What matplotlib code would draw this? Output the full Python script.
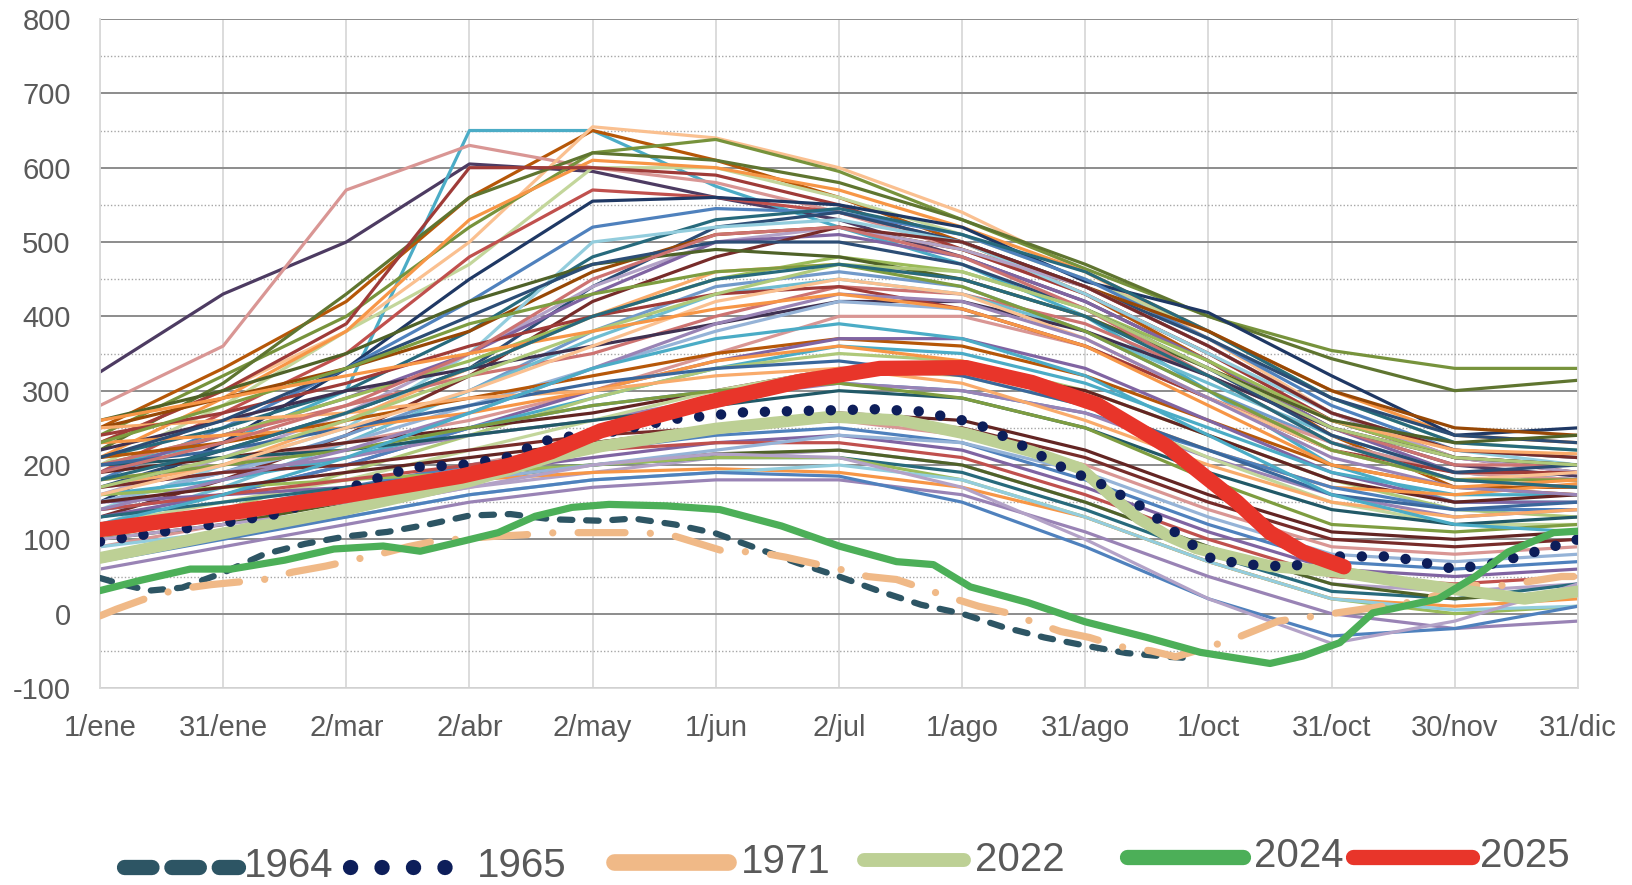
import matplotlib
matplotlib.use("Agg")
import matplotlib.pyplot as plt
from matplotlib.lines import Line2D
from matplotlib.ticker import MultipleLocator

plt.rcParams["axes.unicode_minus"] = False

# ---- data ---------------------------------------------------------------
tick_days = [0, 30, 60, 90, 120, 150, 180, 210, 240, 270, 300, 330, 360]
tick_labels = ["1/ene", "31/ene", "2/mar", "2/abr", "2/may", "1/jun", "2/jul",
               "1/ago", "31/ago", "1/oct", "31/oct", "30/nov", "31/dic"]

# background years, values read at every tick day
bg_days = tick_days
bg_values = [
    [325, 430, 500, 605, 595, 560, 530, 480, 420, 340, 250, 200, 185],
    [200, 230, 300, 650, 650, 575, 520, 470, 400, 300, 200, 150, 150],
    [250, 330, 420, 560, 650, 610, 560, 500, 430, 340, 240, 170, 160],
    [280, 360, 570, 630, 600, 580, 540, 490, 430, 350, 260, 210, 200],
    [230, 300, 380, 500, 655, 640, 600, 540, 460, 370, 270, 220, 210],
    [240, 320, 400, 520, 620, 638, 595, 530, 464, 400, 354, 330, 330],
    [220, 310, 430, 560, 620, 610, 580, 530, 470, 400, 343, 300, 314],
    [200, 280, 380, 470, 600, 600, 560, 510, 450, 380, 290, 230, 220],
    [210, 290, 380, 530, 610, 600, 570, 520, 460, 380, 300, 240, 230],
    [190, 270, 350, 480, 570, 560, 540, 500, 440, 360, 270, 210, 200],
    [230, 300, 390, 600, 600, 590, 550, 490, 430, 350, 260, 210, 190],
    [150, 230, 330, 450, 555, 560, 550, 520, 447, 405, 320, 240, 250],
    [180, 250, 330, 420, 520, 545, 540, 510, 450, 370, 280, 220, 210],
    [210, 250, 300, 380, 480, 530, 545, 510, 460, 380, 290, 230, 220],
    [170, 220, 270, 330, 440, 520, 540, 500, 440, 370, 290, 240, 230],
    [250, 290, 330, 380, 460, 510, 520, 490, 440, 380, 300, 250, 240],
    [140, 200, 250, 350, 500, 520, 530, 500, 430, 350, 270, 220, 200],
    [160, 210, 270, 350, 440, 500, 520, 490, 440, 360, 270, 210, 190],
    [190, 240, 290, 350, 430, 500, 510, 480, 420, 340, 250, 190, 180],
    [130, 180, 240, 320, 420, 480, 520, 500, 440, 360, 270, 220, 210],
    [200, 240, 290, 340, 400, 450, 480, 460, 410, 340, 260, 210, 200],
    [170, 200, 260, 330, 400, 460, 470, 450, 400, 330, 260, 220, 215],
    [260, 300, 350, 420, 470, 490, 480, 450, 400, 330, 260, 230, 240],
    [150, 190, 240, 300, 380, 440, 460, 440, 380, 300, 230, 190, 180],
    [200, 240, 280, 320, 350, 400, 440, 430, 390, 320, 250, 200, 200],
    [120, 170, 230, 300, 370, 430, 450, 430, 380, 310, 240, 190, 180],
    [220, 260, 300, 330, 360, 390, 420, 420, 380, 320, 250, 210, 200],
    [150, 190, 230, 280, 330, 380, 420, 410, 360, 290, 220, 180, 170],
    [180, 200, 230, 260, 300, 350, 400, 400, 360, 290, 230, 190, 180],
    [210, 230, 260, 290, 320, 350, 370, 360, 320, 260, 200, 170, 170],
    [130, 160, 200, 250, 300, 340, 370, 370, 330, 260, 190, 150, 150],
    [160, 180, 210, 250, 290, 330, 360, 350, 310, 250, 190, 160, 160],
    [100, 140, 190, 240, 290, 330, 350, 340, 300, 240, 180, 140, 130],
    [190, 210, 230, 250, 270, 300, 330, 330, 300, 240, 180, 150, 160],
    [230, 240, 250, 270, 300, 340, 360, 340, 280, 220, 170, 160, 175],
    [140, 160, 200, 250, 280, 300, 310, 300, 270, 220, 170, 140, 140],
    [170, 190, 210, 240, 260, 290, 310, 300, 270, 210, 160, 130, 140],
    [120, 150, 180, 220, 260, 300, 330, 320, 280, 210, 150, 120, 120],
    [200, 210, 220, 240, 260, 280, 300, 290, 250, 190, 140, 120, 130],
    [250, 260, 270, 290, 300, 320, 330, 310, 260, 200, 150, 130, 140],
    [90, 120, 160, 200, 230, 250, 260, 240, 200, 140, 90, 80, 90],
    [110, 140, 170, 200, 220, 240, 250, 230, 180, 120, 70, 60, 70],
    [150, 160, 170, 190, 210, 230, 240, 220, 170, 110, 60, 50, 60],
    [80, 110, 140, 170, 190, 210, 220, 200, 150, 90, 40, 30, 40],
    [130, 150, 170, 190, 200, 210, 210, 190, 140, 80, 30, 20, 40],
    [100, 120, 150, 180, 200, 215, 220, 200, 150, 90, 40, 20, 30],
    [160, 170, 180, 190, 200, 210, 210, 180, 130, 70, 20, 0, 10],
    [60, 90, 120, 150, 170, 180, 180, 160, 110, 50, 0, -20, -10],
    [140, 160, 180, 200, 220, 230, 230, 210, 160, 100, 50, 40, 50],
    [120, 140, 160, 180, 190, 195, 190, 170, 130, 70, 20, 10, 20],
    [90, 110, 130, 160, 180, 190, 200, 180, 130, 70, 20, 5, 10],
    [170, 190, 200, 220, 240, 250, 260, 250, 210, 150, 100, 90, 100],
    [180, 200, 220, 250, 280, 300, 310, 290, 250, 180, 120, 110, 120],
    [200, 220, 250, 280, 310, 330, 340, 320, 280, 220, 160, 140, 150],
    [240, 270, 310, 360, 400, 430, 440, 410, 360, 290, 220, 190, 190],
    [160, 200, 250, 300, 360, 420, 450, 430, 370, 290, 220, 180, 190],
    [210, 260, 330, 400, 470, 500, 500, 470, 410, 330, 240, 190, 200],
    [190, 230, 280, 350, 450, 510, 520, 480, 410, 320, 230, 180, 170],
    [170, 210, 260, 320, 380, 430, 470, 460, 410, 330, 250, 210, 200],
    [230, 280, 330, 390, 430, 460, 470, 440, 380, 300, 220, 180, 180],
    [140, 180, 220, 270, 330, 390, 430, 420, 370, 290, 210, 170, 160],
    [260, 290, 320, 350, 380, 410, 430, 410, 360, 280, 200, 170, 180],
    [180, 220, 270, 330, 400, 450, 470, 450, 400, 320, 230, 180, 170],
    [120, 160, 210, 270, 330, 370, 390, 370, 320, 240, 160, 120, 110],
    [150, 170, 190, 210, 230, 250, 270, 260, 220, 160, 110, 100, 110],
    [110, 130, 150, 180, 200, 220, 240, 230, 190, 130, 80, 70, 80],
    [70, 100, 130, 160, 180, 190, 185, 150, 90, 20, -30, -20, 10],
    [100, 120, 140, 170, 200, 215, 210, 170, 100, 20, -40, -10, 40],
]
bg_colors = [
    "#4D3B62", "#4BACC6", "#B65708", "#D99694", "#FAC090", "#77933C",
    "#5F7530", "#C3D69B", "#F79646", "#C0504D", "#9F3B38", "#1F3864",
    "#4F81BD", "#276A7C", "#2C4D75", "#974806", "#93CDDD", "#B3A2C7",
    "#8064A2", "#772C2A", "#9BBB59", "#F9AB6B", "#4F6228", "#729ACA",
    "#CD7371", "#6FBDD1", "#3F3151", "#95B3D7", "#D99694", "#B65708",
    "#8064A2", "#4BACC6", "#AFC97A", "#632523", "#F79646", "#4F81BD",
    "#9983B5", "#C3D69B", "#215967", "#F9AB6B", "#D99694", "#4F81BD",
    "#8064A2", "#B3A2C7", "#276A7C", "#4F6228", "#9BBB59", "#9983B5",
    "#C0504D", "#F79646", "#93CDDD", "#772C2A", "#7E9D40", "#3A679C",
    "#9F3B38", "#FAC090", "#2C4D75", "#CD7371", "#AFC97A", "#7E9D40",
    "#9983B5", "#F79646", "#276A7C", "#4BACC6", "#632523", "#95B3D7",
    "#4F81BD", "#B3A2C7",
]

days_1964 = [0, 5, 12, 20, 30, 40, 50, 60, 70, 80, 90, 100, 110, 122, 130, 140,
             150, 160, 170, 180, 190, 200, 210, 220, 230, 240, 250, 260, 266]
vals_1964 = [48, 40, 31, 35, 55, 80, 94, 104, 110, 120, 132, 134, 127, 125, 128, 120,
             108, 88, 68, 50, 30, 12, 0, -18, -32, -43, -53, -58, -60]

days_1965 = [0, 15, 30, 43, 55, 67, 76, 88, 99, 108, 114, 125, 140, 157, 173, 189,
             200, 211, 216, 225, 235, 244, 254, 262, 271, 280, 290, 300, 315, 330,
             340, 350, 360]
vals_1965 = [97, 110, 122, 134, 158, 181, 197, 200, 210, 232, 238, 245, 262, 271, 273, 275,
             272, 259, 250, 225, 195, 174, 143, 109, 73, 66, 63, 77, 77, 60,
             68, 84, 100]

days_1971 = [0, 4, 12, 19, 27, 40, 47, 55, 68, 75, 82, 96, 103, 111, 125, 132, 139,
             152, 160, 167, 180, 187, 194, 207, 214, 221, 234, 241, 248, 256, 262,
             270, 278, 287, 295, 310, 321, 333, 342, 356, 360]
vals_1971 = [-3, 6, 22, 33, 39, 46, 56, 64, 80, 90, 98, 104, 106, 109, 109, 109, 106,
             84, 83, 76, 60, 50, 46, 22, 10, 1, -24, -32, -44, -50, -58,
             -45, -30, -10, -4, 8, 17, 38, 38, 50, 50]

days_2022 = [0, 30, 60, 90, 110, 122, 150, 178, 195, 211, 227, 239, 246, 253, 260,
             267, 285, 302, 318, 335, 347, 360]
vals_2022 = [75, 108, 140, 178, 211, 225, 249, 265, 260, 242, 218, 195, 160, 128, 105,
             88, 64, 56, 42, 29, 20, 30]

days_2024 = [0, 10, 22, 32, 45, 57, 69, 78, 88, 97, 106, 115, 124, 138, 151, 166, 180,
             194, 203, 212, 226, 240, 255, 268, 285, 293, 302, 310, 326, 335, 343,
             354, 360]
vals_2024 = [31, 45, 60, 60, 72, 87, 91, 84, 97, 109, 131, 143, 147, 145, 140, 118, 91,
             70, 66, 36, 15, -11, -32, -52, -67, -57, -39, 1, 20, 50, 83,
             109, 111]

days_2025 = [0, 32, 59, 88, 100, 110, 122, 147, 170, 190, 211, 227, 243, 260, 277,
             285, 293, 303]
vals_2025 = [113, 136, 158, 185, 200, 218, 246, 283, 312, 330, 331, 311, 281, 225, 150,
             109, 83, 63]

# ---- figure -------------------------------------------------------------
TXT = "#595959"
fig = plt.figure(figsize=(16.33, 8.85), dpi=100)
ax = fig.add_axes([0.0612, 0.2226, 0.9051, 0.7559])

for vals, col in zip(bg_values, bg_colors):
    ax.plot(bg_days, vals, color=col, lw=2.3, solid_joinstyle="round", zorder=2)

ax.plot(days_1964, vals_1964, color="#2D5564", lw=4.5, dashes=(2.0, 2.2),
        dash_capstyle="round", zorder=5)
ax.plot(days_1971, vals_1971, color="#F0B987", lw=5.2, dashes=(6.5, 3.5, 0.01, 3.5),
        dash_capstyle="round", zorder=5)
ax.plot(days_2022, vals_2022, color="#BDD095", lw=8.5, solid_capstyle="round", zorder=5)
ax.plot(days_1965, vals_1965, color="#0D1E5A", lw=7.5, dashes=(0.01, 2.1),
        dash_capstyle="round", zorder=6)
ax.plot(days_2024, vals_2024, color="#4CAF58", lw=5.2, solid_capstyle="round", zorder=7)
ax.plot(days_2025, vals_2025, color="#E8352A", lw=11, solid_capstyle="round", zorder=8)

ax.set_xlim(0, 360)
ax.set_ylim(-100, 800)
ax.set_xticks(tick_days)
ax.set_xticklabels(tick_labels)
ax.yaxis.set_major_locator(MultipleLocator(100))
ax.yaxis.set_minor_locator(MultipleLocator(50))
ax.grid(axis="y", which="major", color="#8C8C8C", lw=1.4, zorder=0)
ax.grid(axis="y", which="minor", color="#A6A6A6", lw=1.0, ls=(0, (1, 1.5)), zorder=0)
ax.grid(axis="x", which="major", color="#D9D9D9", lw=1.3, zorder=0)
ax.set_axisbelow(True)
for side in ["left", "bottom", "right"]:
    ax.spines[side].set_color("#D9D9D9")
    ax.spines[side].set_linewidth(1.3)
ax.spines["top"].set_visible(False)
ax.tick_params(which="both", length=0)
ax.tick_params(axis="y", pad=21, labelsize=21, labelcolor=TXT)
ax.tick_params(axis="x", pad=19, labelsize=21, labelcolor=TXT)
for lab in ax.get_xticklabels() + ax.get_yticklabels():
    lab.set_family(["Liberation Sans", "DejaVu Sans"])

# ---- legend (bottom strip) ----------------------------------------------
W, H = 1633.0, 885.0
leg_font = ["Liberation Sans Narrow", "Liberation Sans", "DejaVu Sans"]


def leg_line(x0, x1, y, **kw):
    fig.add_artist(Line2D([x0 / W, x1 / W], [1 - y / H, 1 - y / H],
                          transform=fig.transFigure, **kw))


def leg_text(x, y, s):
    fig.text(x / W, 1 - y / H, s, color=TXT, fontsize=29, family=leg_font,
             ha="left", va="center")


leg_line(124, 238, 867, color="#2D5564", lw=11, dashes=(1.8, 1.3),
         dash_capstyle="round")
leg_text(244, 866, "1964")
leg_line(350, 452, 867, color="#0D1E5A", lw=11, dashes=(0.01, 2.05),
         dash_capstyle="round")
leg_text(477, 866, "1965")
leg_line(614, 728, 862, color="#F0B987", lw=12, solid_capstyle="round")
leg_text(741, 862, "1971")
leg_line(864, 964, 860, color="#BDD095", lw=10, solid_capstyle="round")
leg_text(975, 860, "2022")
leg_line(1127, 1243, 857, color="#4CAF58", lw=11, solid_capstyle="round")
leg_text(1254, 856, "2024")
leg_line(1353, 1472, 857, color="#E8352A", lw=11, solid_capstyle="round")
leg_text(1480, 856, "2025")

fig.savefig("out.png", dpi=100, facecolor="white")
